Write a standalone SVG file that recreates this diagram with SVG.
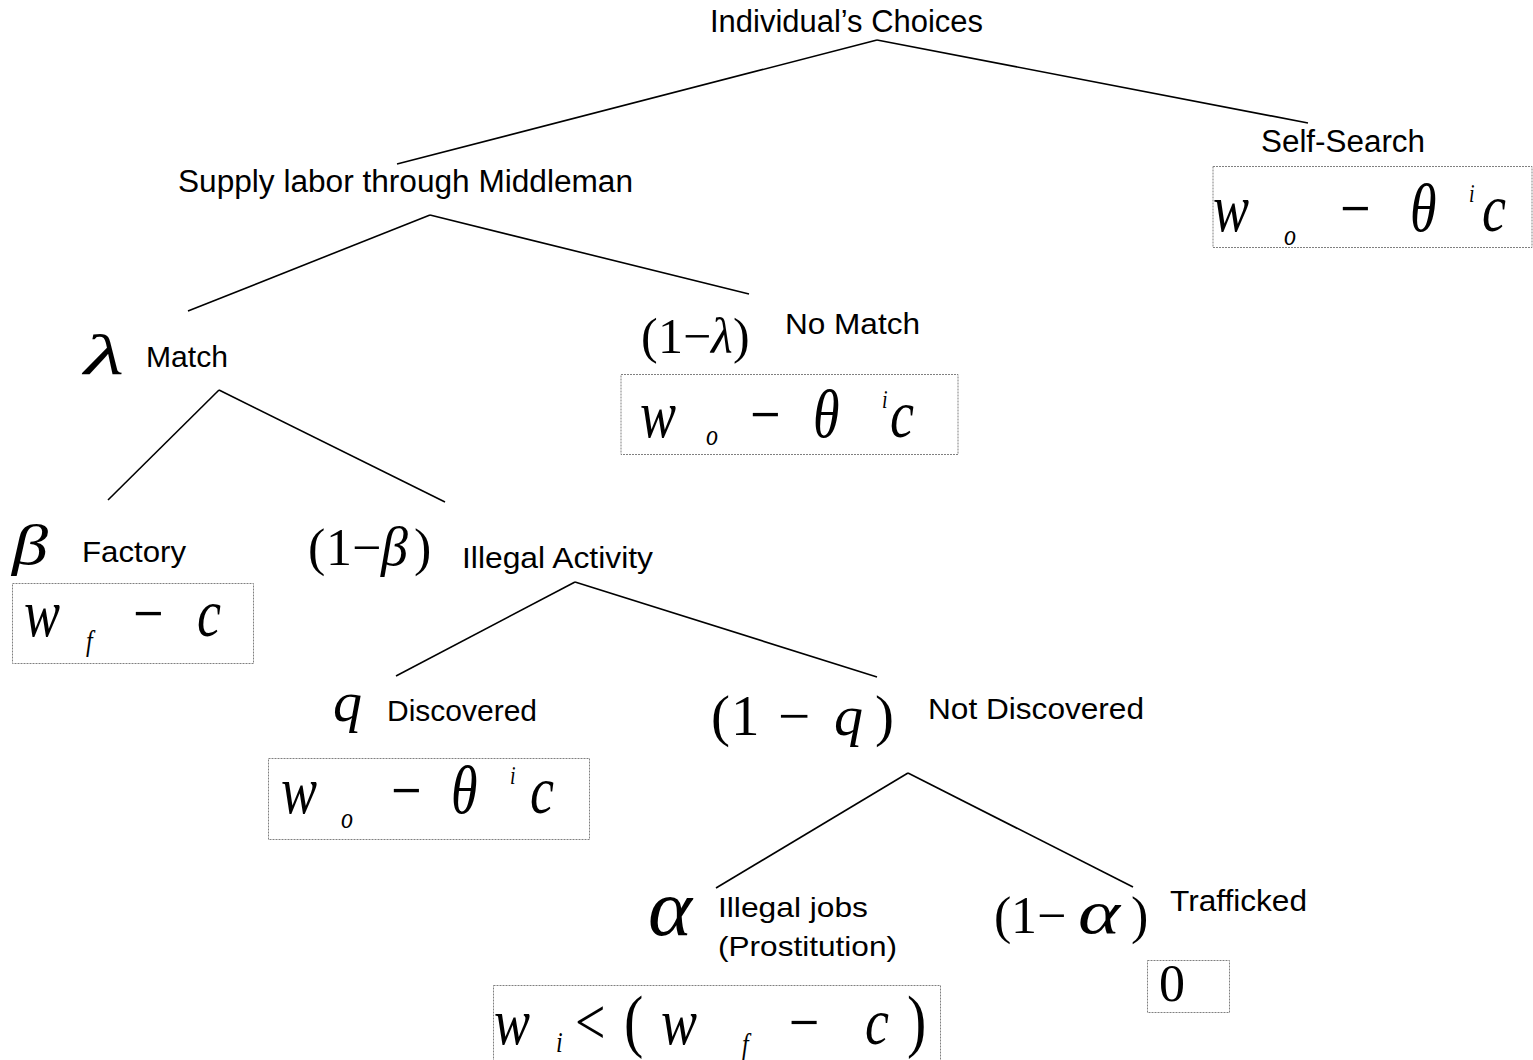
<svg xmlns="http://www.w3.org/2000/svg" width="1533" height="1060" viewBox="0 0 1533 1060">
<style>
.lbl{font-family:"Liberation Sans",Arial,sans-serif;fill:#000}
.m{font-family:"Liberation Serif","Times New Roman",serif;fill:#000}
.mi{font-family:"Liberation Serif","Times New Roman",serif;font-style:italic;fill:#000}
.sub{font-family:"Liberation Serif","Times New Roman",serif;font-size:24px;font-style:italic;fill:#000}
.sup{font-family:"Liberation Serif","Times New Roman",serif;font-size:20px;font-style:italic;fill:#000}
.box{fill:#fff;stroke:#808080;stroke-width:1;stroke-dasharray:2 1}
.edge{stroke:#000;stroke-width:1.6;fill:none}
</style>
<rect width="1533" height="1060" fill="#fff"/>
<g id="connectors">
<line class="edge" x1="877" y1="40" x2="397" y2="164"/>
<line class="edge" x1="877" y1="40" x2="1308" y2="123"/>
<line class="edge" x1="430" y1="215" x2="188" y2="311"/>
<line class="edge" x1="430" y1="215" x2="749" y2="294"/>
<line class="edge" x1="219" y1="390" x2="108" y2="500"/>
<line class="edge" x1="219" y1="390" x2="445" y2="502"/>
<line class="edge" x1="575" y1="582" x2="396" y2="676"/>
<line class="edge" x1="575" y1="582" x2="877" y2="677"/>
<line class="edge" x1="908" y1="773" x2="716" y2="888"/>
<line class="edge" x1="908" y1="773" x2="1133" y2="887"/>
</g>
<g id="root">
<text class="lbl" x="710" y="32" font-size="31" textLength="273" lengthAdjust="spacingAndGlyphs">Individual’s Choices</text>
</g>
<g id="self-search">
<text class="lbl" x="1261" y="152" font-size="31" textLength="164" lengthAdjust="spacingAndGlyphs">Self-Search</text>
<rect class="box" x="1213" y="166.5" width="319" height="81"/>
<g transform="translate(0,231) scale(1,1.25)" font-size="54">
<text class="mi" x="1213" y="0">w</text>
<text class="sub" x="1284" y="11">o</text>
<text class="m" x="1340" y="0">−</text>
<text class="mi" x="1410" y="0">θ</text>
<text class="sup" x="1469" y="-23">i</text>
<text class="mi" x="1482" y="0">c</text>
</g>
</g>
<g id="middleman">
<text class="lbl" x="178" y="192" font-size="31" textLength="455" lengthAdjust="spacingAndGlyphs">Supply labor through Middleman</text>
</g>
<g id="match">
<text class="mi" x="84" y="374" font-size="58" textLength="40" lengthAdjust="spacingAndGlyphs">λ</text>
<text class="lbl" x="146" y="367" font-size="29" textLength="82" lengthAdjust="spacingAndGlyphs">Match</text>
</g>
<g id="no-match">
<text class="m" x="641" y="353" font-size="50">(</text>
<text class="m" x="658" y="353" font-size="50">1</text>
<text class="m" x="683" y="353" font-size="50">−</text>
<text class="mi" x="711" y="353" font-size="50">λ</text>
<text class="m" x="733" y="353" font-size="50">)</text>
<text class="lbl" x="785" y="334" font-size="29" textLength="135" lengthAdjust="spacingAndGlyphs">No Match</text>
<rect class="box" x="621" y="374.5" width="337" height="80"/>
<g transform="translate(0,437) scale(1,1.25)" font-size="54">
<text class="mi" x="640" y="0">w</text>
<text class="sub" x="706" y="6">o</text>
<text class="m" x="750" y="0">−</text>
<text class="mi" x="813" y="0">θ</text>
<text class="sup" x="882" y="-23">i</text>
<text class="mi" x="890" y="0">c</text>
</g>
</g>
<g id="factory">
<text class="mi" x="12" y="564" font-size="56" textLength="36" lengthAdjust="spacingAndGlyphs">β</text>
<text class="lbl" x="82" y="562" font-size="30" textLength="104" lengthAdjust="spacingAndGlyphs">Factory</text>
<rect class="box" x="12.5" y="583.5" width="241" height="80"/>
<g transform="translate(0,636) scale(1,1.25)" font-size="54">
<text class="mi" x="24" y="0">w</text>
<text class="sub" x="86" y="12">f</text>
<text class="m" x="133" y="0">−</text>
<text class="mi" x="197" y="0">c</text>
</g>
</g>
<g id="illegal-activity">
<text class="m" x="308" y="565" font-size="52">(</text>
<text class="m" x="326" y="565" font-size="52">1</text>
<text class="m" x="352" y="565" font-size="52">−</text>
<text class="mi" x="381" y="565" font-size="54">β</text>
<text class="m" x="414" y="565" font-size="52">)</text>
<text class="lbl" x="462" y="568" font-size="30" textLength="191" lengthAdjust="spacingAndGlyphs">Illegal Activity</text>
</g>
<g id="discovered">
<text class="mi" x="333" y="721" font-size="58">q</text>
<text class="lbl" x="387" y="721" font-size="30" textLength="150" lengthAdjust="spacingAndGlyphs">Discovered</text>
<rect class="box" x="268.5" y="758.5" width="321" height="81"/>
<g transform="translate(0,813) scale(1,1.25)" font-size="54">
<text class="mi" x="281" y="0">w</text>
<text class="sub" x="341" y="12">o</text>
<text class="m" x="391" y="0">−</text>
<text class="mi" x="451" y="0">θ</text>
<text class="sup" x="510" y="-23">i</text>
<text class="mi" x="530" y="0">c</text>
</g>
</g>
<g id="not-discovered">
<text class="m" x="711" y="735" font-size="57">(</text>
<text class="m" x="731" y="735" font-size="57">1</text>
<text class="m" x="778" y="735" font-size="57">−</text>
<text class="mi" x="834" y="735" font-size="58">q</text>
<text class="m" x="875" y="735" font-size="57">)</text>
<text class="lbl" x="928" y="719" font-size="30" textLength="216" lengthAdjust="spacingAndGlyphs">Not Discovered</text>
</g>
<g id="illegal-jobs">
<text class="mi" x="648" y="935" font-size="80" textLength="44" lengthAdjust="spacingAndGlyphs">α</text>
<text class="lbl" x="718" y="917" font-size="28" textLength="150" lengthAdjust="spacingAndGlyphs">Illegal jobs</text>
<text class="lbl" x="718" y="956" font-size="28" textLength="179" lengthAdjust="spacingAndGlyphs">(Prostitution)</text>
<rect class="box" x="493.5" y="985.5" width="447" height="80"/>
<g transform="translate(0,1044) scale(1,1.2)" font-size="54">
<text class="mi" x="494" y="0">w</text>
<text class="sub" x="556" y="7">i</text>
<text class="m" x="575" y="0">&lt;</text>
<text class="m" x="624" y="0" font-size="58">(</text>
<text class="mi" x="661" y="0">w</text>
<text class="sub" x="742" y="8">f</text>
<text class="m" x="789" y="0">−</text>
<text class="mi" x="865" y="0">c</text>
<text class="m" x="907" y="0" font-size="58">)</text>
</g>
</g>
<g id="trafficked">
<text class="m" x="994" y="933" font-size="52">(</text>
<text class="m" x="1011" y="933" font-size="52">1</text>
<text class="m" x="1037" y="933" font-size="52">−</text>
<text class="mi" x="1078" y="933" font-size="62" textLength="42" lengthAdjust="spacingAndGlyphs">α</text>
<text class="m" x="1131" y="933" font-size="52">)</text>
<text class="lbl" x="1170" y="911" font-size="30" textLength="137" lengthAdjust="spacingAndGlyphs">Trafficked</text>
<rect class="box" x="1147.5" y="960.5" width="82" height="52"/>
<text class="m" x="1159" y="1001" font-size="52">0</text>
</g>
</svg>
